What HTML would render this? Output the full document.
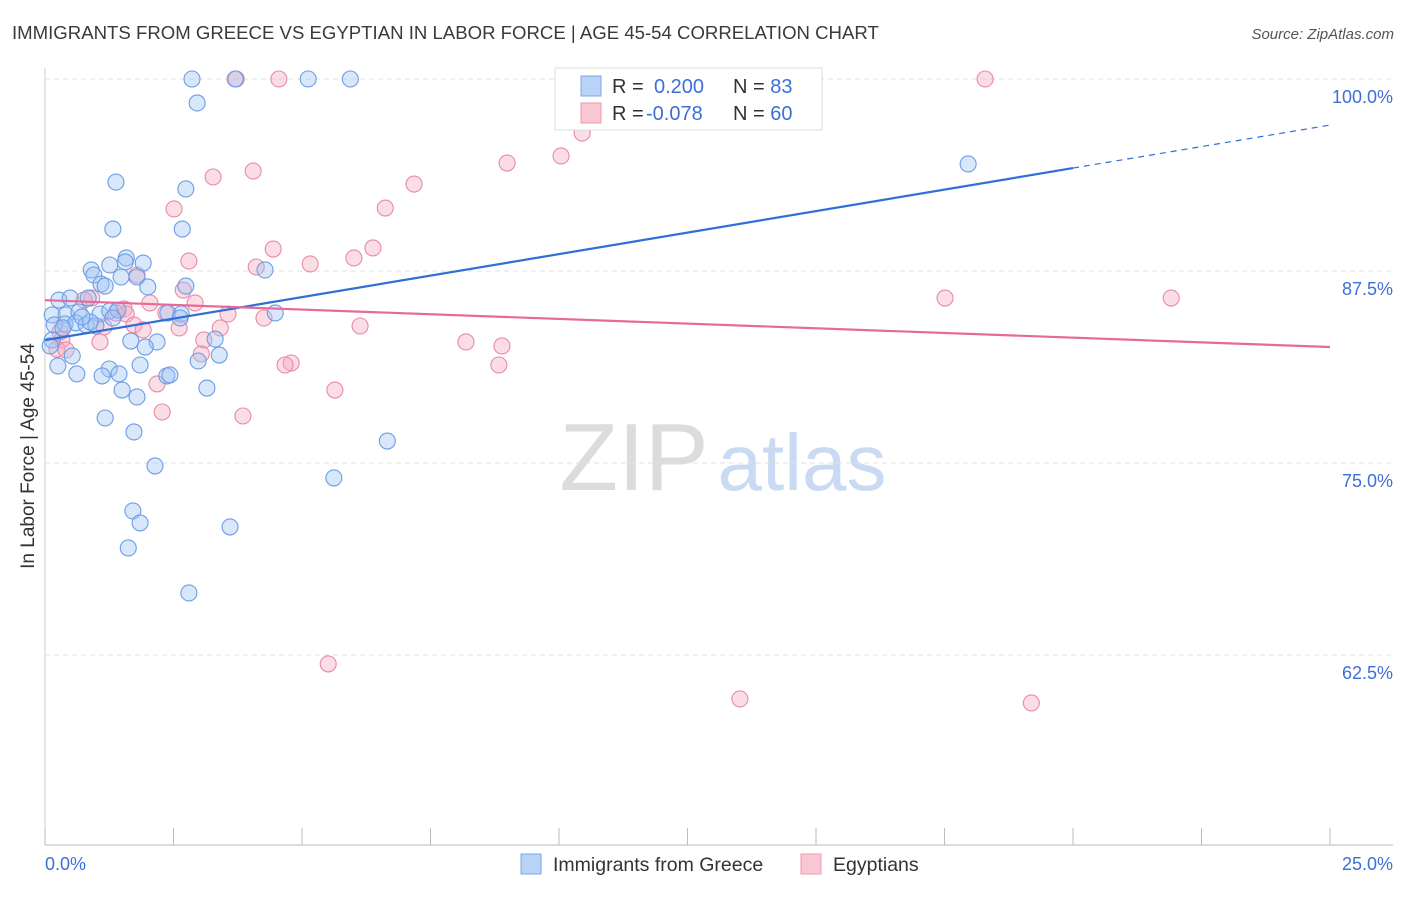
<!DOCTYPE html>
<html><head><meta charset="utf-8"><style>
body{margin:0;background:#fff;font-family:"Liberation Sans",sans-serif;}
svg text{font-family:"Liberation Sans",sans-serif;}
</style></head><body>
<svg id="chart" width="1406" height="892">
<text x="12" y="39" font-size="18.6" fill="#3a3a3a">IMMIGRANTS FROM GREECE VS EGYPTIAN IN LABOR FORCE | AGE 45-54 CORRELATION CHART</text>
<text x="1394" y="39" font-size="15" fill="#555" font-style="italic" text-anchor="end">Source: ZipAtlas.com</text>
<g>
<text x="634" y="490" font-size="96" fill="#dcdcdc" font-family="Liberation Serif" text-anchor="middle">ZIP</text>
<text x="802" y="490" font-size="80" fill="#c9daf2" text-anchor="middle">atlas</text>
</g>
<g id="grid"></g><g id="axes"></g><g id="marks"></g><g id="lines"></g>
<text transform="translate(34,456) rotate(-90)" font-size="19" fill="#333" text-anchor="middle">In Labor Force | Age 45-54</text>
<text x="45" y="870" font-size="18" fill="#3d6fd6">0.0%</text>
<text x="1393" y="870" font-size="18" fill="#3d6fd6" text-anchor="end">25.0%</text>
<g>
<rect x="555" y="68" width="267" height="62" fill="#fff" stroke="#ddd"/>
<rect x="581" y="76" width="20" height="20" fill="#b9d3f7" stroke="#7aa7e8"/>
<rect x="581" y="103" width="20" height="20" fill="#f9c6d3" stroke="#eb9bb3"/>
<text x="612" y="93" font-size="20" fill="#333">R = <tspan x="654" fill="#3d6fd6">0.200</tspan><tspan x="733">N = </tspan><tspan fill="#3d6fd6">83</tspan></text>
<text x="612" y="120" font-size="20" fill="#333">R = <tspan x="646" fill="#3d6fd6">-0.078</tspan><tspan x="733">N = </tspan><tspan fill="#3d6fd6">60</tspan></text>
</g>
<g>
<rect x="521" y="854" width="20" height="20" fill="#b9d3f7" stroke="#7aa7e8"/>
<text x="553" y="871" font-size="19.5" fill="#333">Immigrants from Greece</text>
<rect x="801" y="854" width="20" height="20" fill="#f9c6d3" stroke="#eb9bb3"/>
<text x="833" y="871" font-size="19.5" fill="#333">Egyptians</text>
</g>
</svg>
<script>
const yTicks=[100,87.5,75,62.5];
const yTickLabels=["100.0%","87.5%","75.0%","62.5%"];
const blueX=[2.86,3.70,5.12,5.94,2.96,1.38,2.74,17.96,1.32,2.67,1.58,1.91,1.26,0.90,1.56,4.28,0.95,1.48,1.79,1.09,1.17,2.00,2.74,0.27,0.49,0.84,0.14,0.41,0.66,1.07,1.26,1.42,0.18,0.39,0.60,0.80,0.99,1.32,2.39,2.65,4.48,0.14,0.10,1.67,2.18,3.31,0.53,1.95,3.39,0.25,1.25,1.85,2.98,0.62,1.11,1.44,2.37,2.43,1.50,3.15,1.79,1.17,1.73,6.66,2.14,5.62,1.71,1.85,3.60,1.62,2.80,0.35,0.88,2.63,0.72];
const blueY=[100,100,100,100,98.44,93.29,92.84,94.47,90.23,90.23,88.35,88.02,87.89,87.57,88.09,87.57,87.24,87.11,87.11,86.65,86.52,86.46,86.52,85.61,85.74,85.74,84.64,84.64,84.83,84.70,84.90,84.96,83.99,84.05,84.12,83.99,83.92,84.44,84.77,84.70,84.77,83.01,82.62,82.94,82.88,83.07,81.97,82.55,82.03,81.32,81.12,81.38,81.64,80.80,80.67,80.80,80.67,80.73,79.75,79.88,79.30,77.93,77.02,76.43,74.81,74.03,71.88,71.10,70.84,69.47,66.54,83.79,84.18,84.44,84.51];
const pinkX=[3.72,4.55,18.29,10.45,8.99,10.04,4.05,3.27,7.18,2.51,6.62,6.38,4.44,2.80,4.11,5.16,6.01,1.79,2.69,17.51,21.91,0.91,1.54,2.04,2.92,3.56,4.26,2.35,1.58,1.73,6.13,1.15,1.91,2.61,3.41,3.09,0.33,1.07,8.19,8.89,0.23,0.41,3.04,4.79,4.67,8.83,2.18,5.64,2.28,3.85,5.51,13.52,19.19,0.76,1.38,0.29];
const pinkY=[100,100,100,96.48,94.53,94.99,94.01,93.62,93.16,91.54,91.60,89.00,88.93,88.15,87.76,87.96,88.35,87.24,86.26,85.74,85.74,85.74,85.03,85.42,85.42,84.70,84.44,84.77,84.70,83.99,83.92,83.86,83.66,83.79,83.79,83.01,83.01,82.88,82.88,82.62,82.42,82.36,82.10,81.51,81.38,81.38,80.15,79.75,78.32,78.06,61.92,59.64,59.38,85.61,84.77,83.53];
const blueTrend=[0,83.0,25,97.0];
const pinkTrend=[0,85.6,25,82.55];
const NS="http://www.w3.org/2000/svg";
const X=v=>45+v/25*1285;
const Y=v=>79+(100-v)/12.5*192;
function mk(t,a,p){const e=document.createElementNS(NS,t);for(const k in a)e.setAttribute(k,a[k]);p.appendChild(e);return e;}
const grid=document.getElementById('grid'),axes=document.getElementById('axes'),marks=document.getElementById('marks'),lines=document.getElementById('lines');
yTicks.forEach((t,i)=>{
 const l=mk('line',{x1:45,x2:1393,y1:Y(t),y2:Y(t),stroke:'#e2e2e2','stroke-dasharray':'5,4'},grid);
 
 
 const tx=mk('text',{x:1393,y:Y(t)+24,'font-size':18,fill:'#3d6fd6','text-anchor':'end'},axes);
 tx.textContent=yTickLabels[i];
 
 
});
const xa=mk('line',{x1:45,x2:1393,y1:845,y2:845,stroke:'#bbb'},axes);


const ya=mk('line',{x1:45,x2:45,y1:68,y2:845,stroke:'#ccc'},axes);


for(let i=0;i<=10;i++){
 const t=mk('line',{x1:X(i*2.5),x2:X(i*2.5),y1:828,y2:845,stroke:'#bbb'},axes);
 
 
}
function pts(xs,ys,fill,stroke,name){
 xs.forEach((x,i)=>{
  const c=mk('circle',{cx:X(x),cy:Y(ys[i]),r:8,fill:fill,'fill-opacity':0.4,stroke:stroke,'stroke-width':1.1},marks);
  
  
 });
}
pts(pinkX,pinkY,'#f5a9bf','#e98aa8','egyptian-point');
pts(blueX,blueY,'#9fc2f3','#6b9de6','greece-point');
function lerp(t,x){return t[1]+(t[3]-t[1])*(x-t[0])/(t[2]-t[0]);}
const b1=mk('line',{x1:X(0),y1:Y(lerp(blueTrend,0)),x2:X(20),y2:Y(lerp(blueTrend,20)),stroke:'#2f6fd6','stroke-width':2.2},lines);


const b2=mk('line',{x1:X(20),y1:Y(lerp(blueTrend,20)),x2:X(25),y2:Y(lerp(blueTrend,25)),stroke:'#2f6fd6','stroke-width':1.2,'stroke-dasharray':'6,5'},lines);


const p1=mk('line',{x1:X(0),y1:Y(lerp(pinkTrend,0)),x2:X(25),y2:Y(lerp(pinkTrend,25)),stroke:'#e7699a','stroke-width':2.2},lines);


</script>
</body></html>
